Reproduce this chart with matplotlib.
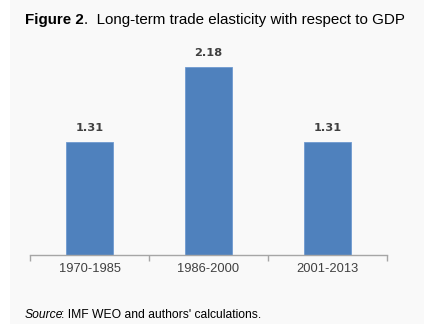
import matplotlib.pyplot as plt
from matplotlib.patches import Rectangle

# Datos del grafico
periodos = ['1970-1985', '1986-2000', '2001-2013']
elasticidad = [1.31, 2.18, 1.31]

plt.rcParams['font.family'] = ['Liberation Sans', 'DejaVu Sans']

fig = plt.figure(figsize=(4.24, 3.24), dpi=100, facecolor='#f9f9f9')
# franja blanca a la izquierda
fig.patches.append(Rectangle((0, 0), 10 / 424, 1, transform=fig.transFigure,
                             facecolor='white', edgecolor='none', zorder=-1))

ax = fig.add_axes([30 / 424, 1 - 254.7 / 324, 357 / 424, 214.7 / 324])
ax.set_facecolor('none')

x = range(len(periodos))
barras = ax.bar(x, elasticidad, width=0.40, color='#4f81bd', edgecolor='#6f9ad0', linewidth=0.6)
for b, v in zip(barras, elasticidad):
    ax.annotate(f'{v:.2f}', (b.get_x() + b.get_width() / 2, v), xytext=(0, 6),
                textcoords='offset points', ha='center', va='bottom',
                fontsize=8.2, fontweight='bold', color='#404040', family='DejaVu Sans')

ax.set_xlim(-0.5, 2.5)
ax.set_ylim(0, 2.49)
for s in ['top', 'right', 'left']:
    ax.spines[s].set_visible(False)
ax.spines['bottom'].set_color('#a6a6a6')
ax.spines['bottom'].set_linewidth(1.0)
ax.set_yticks([])

# separadores como ticks mayores, etiquetas en ticks menores
ax.set_xticks([-0.5, 0.5, 1.5, 2.5])
ax.set_xticklabels([])
ax.tick_params(axis='x', which='major', length=4, color='#a6a6a6', width=1.0)
ax.set_xticks(list(x), minor=True)
ax.set_xticklabels(periodos, minor=True)
ax.tick_params(axis='x', which='minor', length=0, pad=6, labelsize=9.3, labelcolor='#404040')

# titulo
t1 = fig.text(25 / 424, 1 - 24 / 324, 'Figure 2', fontsize=10.9, fontweight='bold',
              ha='left', va='baseline', color='black')
ax.annotate('.  Long-term trade elasticity with respect to GDP', xy=(1, 0), xycoords=t1,
            fontsize=10.9, ha='left', va='bottom', color='black', annotation_clip=False)

# fuente
t2 = fig.text(25 / 424, 1 - 318 / 324, 'Source', fontsize=8.7, style='italic',
              ha='left', va='baseline', color='black')
ax.annotate(": IMF WEO and authors' calculations.", xy=(1, 0), xycoords=t2,
            xytext=(-2, 0), textcoords='offset points',
            fontsize=8.7, ha='left', va='bottom', color='black', annotation_clip=False)

fig.savefig('out.png', dpi=100, facecolor=fig.get_facecolor())
